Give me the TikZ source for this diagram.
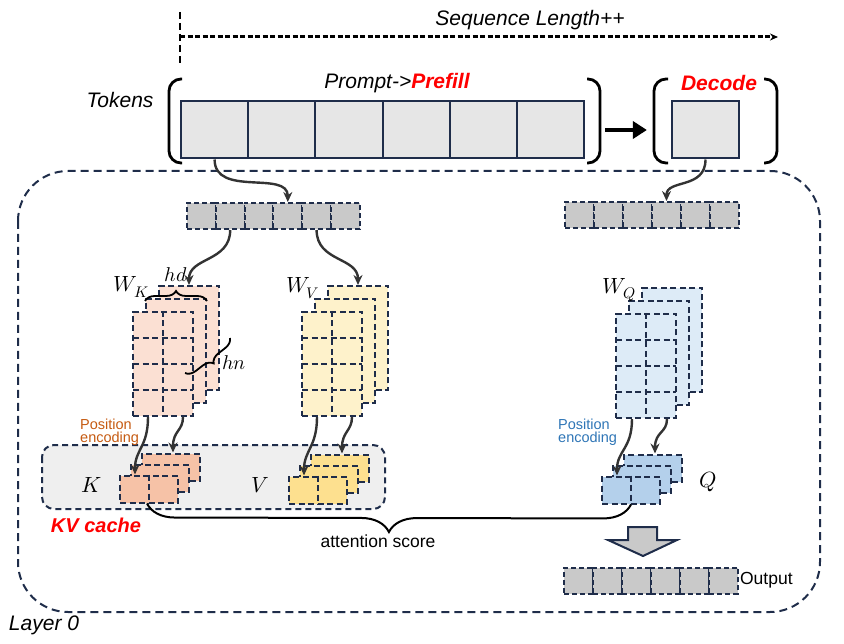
\documentclass[tikz,border=0pt]{standalone}
\usepackage{fontspec}
\usepackage{unicode-math}
\setmainfont{Liberation Sans}
\usetikzlibrary{positioning,arrows.meta,decorations.pathreplacing}

\definecolor{navy}{HTML}{1F2D4A}
\definecolor{tokgray}{HTML}{E6E6E6}
\definecolor{embgray}{HTML}{C9C9C9}
\definecolor{cachegray}{HTML}{EFEFEF}
\definecolor{kLight}{HTML}{FBE0D3}
\definecolor{kDark}{HTML}{F6C2A7}
\definecolor{vLight}{HTML}{FEF2CB}
\definecolor{vDark}{HTML}{FDE08F}
\definecolor{qLight}{HTML}{DDEBF7}
\definecolor{qDark}{HTML}{B4D0EB}
\definecolor{posOrange}{HTML}{C55A11}
\definecolor{posBlue}{HTML}{2E75B6}
\definecolor{flowgray}{HTML}{333333}

\begin{document}
\begin{tikzpicture}[x=1pt,y=-1pt,
  tok/.style={draw=navy, line width=2pt, fill=tokgray, minimum width=67.2pt, minimum height=57pt, inner sep=0pt},
  emb/.style={draw=navy, line width=2pt, dash pattern=on 5pt off 3pt, fill=embgray, minimum width=28.8pt, minimum height=26pt, inner sep=0pt},
  wmat/.style={draw=navy, line width=2pt, dash pattern=on 6pt off 3.5pt, minimum width=60pt, minimum height=104pt, inner sep=0pt},
  cmat/.style={draw=navy, line width=2pt, dash pattern=on 6pt off 3.5pt, minimum width=58pt, minimum height=27pt, inner sep=0pt},
  gridline/.style={navy, line width=2pt, dash pattern=on 6pt off 3.5pt},
  paren/.style={line width=2.8pt, rounded corners=12pt},
  flow/.style={flowgray, line width=2.4pt, -{Stealth[length=10pt,width=9pt]}},
  lbl/.style={font=\fontsize{21}{25}\selectfont\itshape, inner sep=0pt},
  mathlbl/.style={font=\fontsize{22}{26}\selectfont, inner sep=0pt},
  small/.style={font=\fontsize{17.5}{20}\selectfont, inner sep=0pt},
  posenc/.style={font=\fontsize{14.5}{13}\selectfont, align=left, inner sep=0pt, anchor=north west}
]

\path [use as bounding box] (0,0) rectangle (844,644);

% SEQUENCE
\coordinate (seqS) at (180,37);
\coordinate (seqE) at (778,37);
\draw [line width=2.5pt, dash pattern=on 7pt off 4pt] (180,12) -- (180,66);
\draw [line width=3pt, dash pattern=on 5pt off 2.5pt, -{Stealth[length=8pt,width=7pt]}] (seqS) -- (seqE);
\node [lbl] (seq) at (530,20) {Sequence Length++};

% LAYER
\draw [navy, line width=2pt, dash pattern=on 8pt off 5pt, rounded corners=50pt] (18,171) rectangle (820,612);
\node [lbl] (layer) at (44,625) {Layer 0};

% TOKENS
\node [lbl] (tokens) at (120,100) {Tokens};
\foreach \i in {0,...,5}
  \node [tok] (t\i) at ({214.6+67.2*\i},130) {};
\node [tok] (dec) at (705.5,130) {};
\draw [paren] (182,79) -| (169,121) |- (182,163);
\draw [paren] (587,79) -| (600,121) |- (587,163);
\draw [paren] (668,79) -| (654,121) |- (668,163);
\draw [paren] (764,79) -| (777,121) |- (764,163);
\node [lbl] (prefill) at (397,83) {Prompt->\textcolor{red}{\bfseries Prefill}};
\node [lbl, text=red, font=\fontsize{21}{25}\selectfont\bfseries\itshape] (decode) at (719,83) {Decode};
\draw [line width=4.5pt, -{Triangle[length=14pt,width=17pt]}] ([xshift=20pt]t5.east) -- ([xshift=-24pt]dec.west);

% EMBEDDINGS
\foreach \i in {0,...,5} {
  \node [emb] (e\i) at ({201.4+28.8*\i},216) {};
  \node [emb] (d\i) at ({579.5+29*\i},215) {};
  \node [emb] (o\i) at ({578.5+29*\i},580.5) {};
}
\draw [flow] (t0.south) .. controls +(0,38) and +(0,-32) .. (e3.north);
\draw [flow] (dec.south) .. controls +(0,30) and +(0,-22) .. (d3.north);

% WEIGHTS
\foreach \nm/\cx/\cy/\col in {wk/163/364/kLight, wv/332/364/vLight, wq/646/366/qLight} {
  \node [wmat, fill=\col] (\nm b) at (\cx+26,\cy-26) {};
  \node [wmat, fill=\col] (\nm m) at (\cx+13,\cy-13) {};
  \node [wmat, fill=\col] (\nm f) at (\cx,\cy) {};
  \draw [gridline] (\nm f.north) -- (\nm f.south);
  \foreach \r in {1,2,3}
    \draw [gridline] (\cx-30,\cy-52+26*\r) -- (\cx+30,\cy-52+26*\r);
}
\node [mathlbl] (wklbl) at (131,287) {$W_K$};
\node [mathlbl] (wvlbl) at (303,288) {$W_V$};
\node [mathlbl] (wqlbl) at (619,290) {$W_Q$};
\draw [flow] (e1.south) .. controls +(0,32) and +(0,-28) .. (wkb.north);
\draw [flow] (e4.south) .. controls +(0,32) and +(0,-28) .. (wvb.north);

% hd / hn
\draw [line width=1.8pt, decoration={brace, amplitude=10pt}, decorate] ([yshift=-3pt]wkm.north west) -- ([yshift=-3pt]wkm.north east);
\node [mathlbl, font=\fontsize{20}{24}\selectfont] (hd) at (176,275) {$hd$};
\draw [line width=1.8pt, decoration={brace, mirror, amplitude=10pt}, decorate] (185,373) -- (230,338);
\node [mathlbl, font=\fontsize{20}{24}\selectfont] (hn) at (234,363) {$hn$};

% KV CACHE
\draw [navy, line width=2pt, dash pattern=on 6pt off 4pt, fill=cachegray, rounded corners=12pt] (42,445) rectangle (385,509);
\node [lbl, text=red, font=\fontsize{20}{24}\selectfont\bfseries\itshape] (kvcache) at (96,525) {KV cache};
\foreach \nm/\cx/\cy/\col in {ck/149/489/kDark, cv/318/490/vDark, cq/631/490/qDark} {
  \node [cmat, fill=\col] (\nm b) at (\cx+22,\cy-22) {};
  \node [cmat, fill=\col] (\nm m) at (\cx+11,\cy-11) {};
  \node [cmat, fill=\col] (\nm f) at (\cx,\cy) {};
  \draw [gridline] (\nm f.north) -- (\nm f.south);
}
\node [mathlbl] (klbl) at (92,485) {$K$};
\node [mathlbl] (vlbl) at (260,485) {$V$};
\node [mathlbl] (qlbl) at (708,482) {$Q$};
\node [posenc, text=posOrange] (posk) at (80,419) {Position\\encoding};
\node [posenc, text=posBlue] (posq) at (558,419) {Position\\encoding};

\draw [flow] ([xshift=-15pt]wkf.south) .. controls +(0,30) and +(0,-25) .. ([xshift=-14pt]ckf.north);
\draw [flow] ([xshift=20pt]wkf.south) .. controls +(0,14) and +(0,-22) .. ([xshift=2pt]ckb.north);
\draw [flow] ([xshift=-15pt]wvf.south) .. controls +(0,30) and +(0,-25) .. ([xshift=-14pt]cvf.north);
\draw [flow] ([xshift=20pt]wvf.south) .. controls +(0,14) and +(0,-22) .. ([xshift=2pt]cvb.north);
\draw [flow] ([xshift=-14pt]wqf.south) .. controls +(0,30) and +(0,-25) .. ([xshift=-14pt]cqf.north);
\draw [flow] ([xshift=21pt]wqf.south) .. controls +(0,14) and +(0,-22) .. ([xshift=2pt]cqb.north);

% ATTENTION
\draw [line width=2pt, decoration={brace, mirror, amplitude=28pt}, decorate] ([xshift=-2pt]ckf.south) -- (cqf.south);
\node [small] (att) at (378,541) {attention score};
\draw [navy, line width=2pt, fill=embgray] (628,527) -- (657,527) -- (657,540) -- (677,540) -- (643,556) -- (608,540) -- (628,540) -- cycle;
\node [small, anchor=west] (out) at ([xshift=1pt]o5.east) {Output};

\end{tikzpicture}
\end{document}
